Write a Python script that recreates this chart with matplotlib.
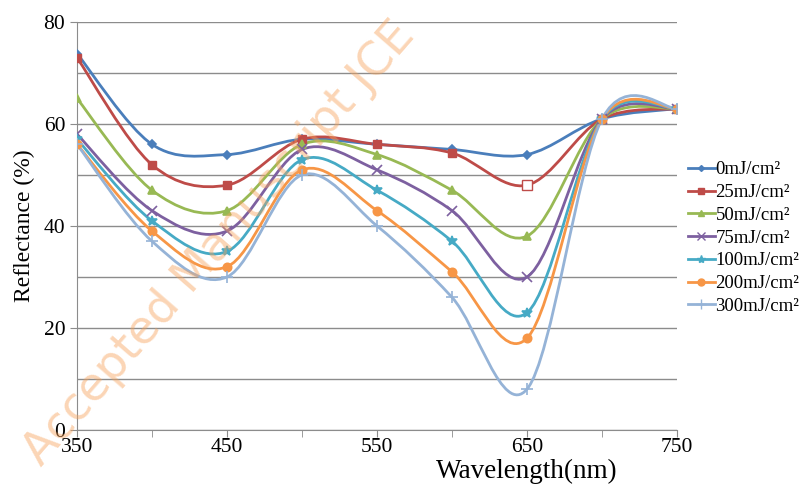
import matplotlib.pyplot as plt
from matplotlib.path import Path
from matplotlib.patches import PathPatch

# wavelength points (nm)
wavelength = [350, 400, 450, 500, 550, 600, 650, 700, 750]

# reflectance (%) for each fluence
r_0 = [73.8, 56, 54, 57, 56, 55, 54, 61, 63]
r_25 = [73, 52, 48, 57, 56, 54.3, 48, 61, 63]
r_50 = [65, 47, 43, 56, 54, 47, 38, 61, 63]
r_75 = [58, 43, 39, 55, 51, 43, 30, 61, 63]
r_100 = [57, 41, 35, 53, 47, 37, 23, 61, 63]
r_200 = [56, 39, 32, 51, 43, 31, 18, 61, 63]
r_300 = [56, 37, 30, 50, 40, 26, 8, 61, 63]

labels = ["0mJ/cm²", "25mJ/cm²", "50mJ/cm²", "75mJ/cm²",
          "100mJ/cm²", "200mJ/cm²", "300mJ/cm²"]
series = [r_0, r_25, r_50, r_75, r_100, r_200, r_300]
colors = ["#4A7EBB", "#BE4B48", "#98B954", "#7D60A0",
          "#46AAC5", "#F79646", "#95B3D7"]
markers = ["D", "s", "^", "x", "*", "o", "+"]
msizes = [4, 6, 6, 7, 7, 6, 8]


def smooth_path(xs, ys):
    # Excel-style smoothed line: cubic Bezier between points
    n = len(xs)
    verts = [(xs[0], ys[0])]
    codes = [Path.MOVETO]
    for i in range(n - 1):
        x0, y0 = (xs[i - 1], ys[i - 1]) if i > 0 else (xs[i], ys[i])
        x3, y3 = (xs[i + 2], ys[i + 2]) if i + 2 < n else (xs[i + 1], ys[i + 1])
        c1 = (xs[i] + (xs[i + 1] - x0) / 6, ys[i] + (ys[i + 1] - y0) / 6)
        c2 = (xs[i + 1] - (x3 - xs[i]) / 6, ys[i + 1] - (y3 - ys[i]) / 6)
        verts += [c1, c2, (xs[i + 1], ys[i + 1])]
        codes += [Path.CURVE4] * 3
    return Path(verts, codes)


plt.rcParams['font.family'] = ['Liberation Serif', 'DejaVu Serif']

fig = plt.figure(figsize=(8.12, 4.88), dpi=100)
ax = fig.add_axes([0.0948, 0.119, 0.739, 0.836])

# watermark
fig.text(0.27, 0.5, "Accepted Manuscript JCE", fontsize=33, color="#F7A35C",
         alpha=0.45, rotation=49, ha="center", va="center",
         family="DejaVu Sans", zorder=0)

for k, (ys, lab, c, m, ms) in enumerate(zip(series, labels, colors, markers, msizes)):
    ax.add_patch(PathPatch(smooth_path(wavelength, ys), facecolor="none",
                           edgecolor=c, lw=2, zorder=3))
    if k == 1:
        # the 650 nm point is drawn hollow in the source
        ax.plot(wavelength[:6] + wavelength[7:], ys[:6] + ys[7:], linestyle="none",
                marker=m, color=c, ms=ms, zorder=4)
        ax.plot(wavelength[6], ys[6], linestyle="none", marker=m, ms=ms + 1,
                mfc="white", mec=c, mew=1, zorder=4)
    else:
        ax.plot(wavelength, ys, linestyle="none", marker=m, color=c, ms=ms,
                mew=1.2, zorder=4)
    ax.plot([], [], color=c, marker=m, ms=ms - 1, lw=2, label=lab)

ax.set_xlim(350, 750)
ax.set_ylim(0, 80)
ax.set_xticks([350, 450, 550, 650, 750])
ax.set_xticks([400, 500, 600, 700], minor=True)
ax.set_yticks([0, 20, 40, 60, 80])
ax.set_yticks([10, 30, 50, 70], minor=True)
ax.grid(True, which="both", axis="y", color="#8C8C8C", lw=1)
ax.set_axisbelow(True)
ax.tick_params(axis="both", which="major", labelsize=15.5, color="#8C8C8C")
ax.tick_params(axis="x", which="both", length=5, direction="out", color="#8C8C8C")
ax.tick_params(axis="x", which="major", pad=1)
ax.tick_params(axis="y", which="both", length=5, color="#8C8C8C")
ax.tick_params(axis="y", which="minor", length=0)
for s in ["top", "right"]:
    ax.spines[s].set_visible(False)
for s in ["left", "bottom"]:
    ax.spines[s].set_color("#8C8C8C")

ax.set_xlabel("Wavelength(nm)", fontsize=19.5)
ax.xaxis.set_label_coords(0.75, -0.072)
ax.set_ylabel("Reflectance (%)", fontsize=17, labelpad=6)

ax.legend(loc="center left", bbox_to_anchor=(1.0, 0.47), frameon=False,
          fontsize=13.5, handlelength=1.4, handletextpad=0.05,
          labelspacing=0.3, borderaxespad=0.2)

fig.savefig("out.png", dpi=100)
